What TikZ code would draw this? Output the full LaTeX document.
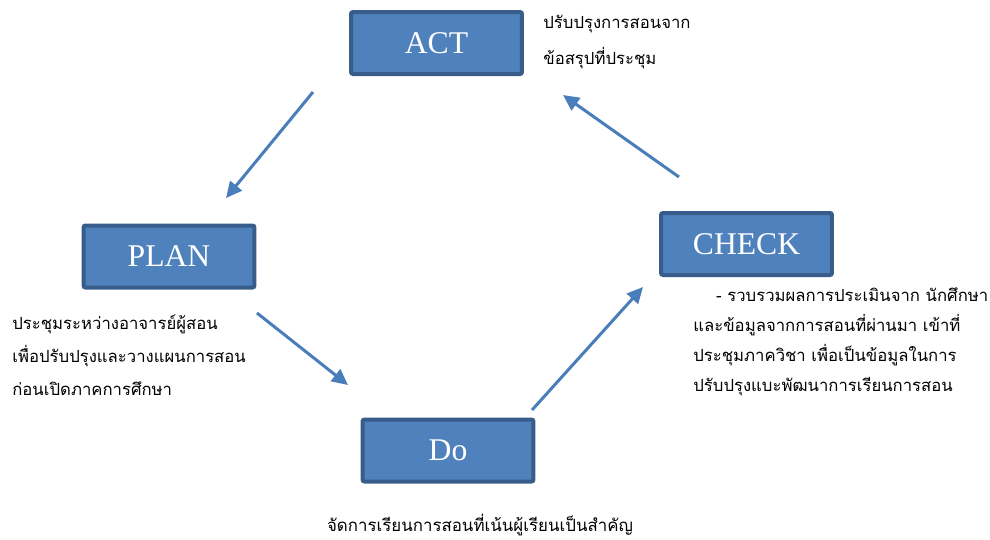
\documentclass[tikz,border=0pt]{standalone}
\usepackage{fontspec}
\setmainfont{Liberation Serif}
\newfontfamily\thaifont[Script=Thai]{Loma}
\usepackage{xcolor}
\usepackage{tikz}
\usetikzlibrary{arrows.meta, positioning}

\definecolor{boxfill}{HTML}{4F81BD}
\definecolor{boxline}{HTML}{385D8A}
\definecolor{arrowblue}{HTML}{4A7EBB}

\begin{document}
\begin{tikzpicture}[
        x=0.02cm, y=-0.02cm,
        phase/.style={rectangle, draw=boxline, line width=0.08cm, fill=boxfill, rounded corners=0.04cm,
            minimum width=3.42cm, minimum height=1.24cm, text=white, font=\fontsize{18}{20}\selectfont},
        note/.style={align=left, text=black, inner sep=0pt},
        arrow/.style={-{Triangle[length=0.32cm, width=0.3cm]}, line width=0.06cm, draw=arrowblue}
    ]
        \useasboundingbox (0,0) rectangle (990,539);

        \node[phase] (act) at (436.5,43) {ACT};
        \node[phase] (plan) at (169,256.5) {PLAN};
        \node[phase] (check) at (746.5,244) {CHECK};
        \node[phase] (do) at (448,450.5) {Do};

        \node[note, anchor=west, font=\thaifont\fontsize{9.5}{20.4}\selectfont] (actnote) at (543,42)
            {ปรับปรุงการสอนจาก\\ข้อสรุปที่ประชุม};
        \node[note, anchor=west, font=\thaifont\fontsize{9.5}{18.7}\selectfont] (plannote) at (12,355)
            {ประชุมระหว่างอาจารย์ผู้สอน\\เพื่อปรับปรุงและวางแผนการสอน\\ก่อนเปิดภาคการศึกษา};
        \node[note, anchor=west, font=\thaifont\fontsize{9.5}{17}\selectfont] (checknote) at (693,342)
            {\hspace*{13pt}- รวบรวมผลการประเมินจาก นักศึกษา\\และข้อมูลจากการสอนที่ผ่านมา เข้าที่\\ประชุมภาควิชา เพื่อเป็นข้อมูลในการ\\ปรับปรุงแบะพัฒนาการเรียนการสอน};
        \node[note, font=\thaifont\fontsize{9.6}{17}\selectfont] (donote) at (480,525)
            {จัดการเรียนการสอนที่เน้นผู้เรียนเป็นสำคัญ};

        % arrow ends float free of the boxes
        \coordinate (actout) at (313,92);
        \coordinate (planin) at (226,198);
        \coordinate (planout) at (257,313);
        \coordinate (doin) at (348,385);
        \coordinate (doout) at (532,410);
        \coordinate (checkin) at (643,287);
        \coordinate (checkout) at (679,177);
        \coordinate (actin) at (563,95);

        \draw[arrow] (actout) -- (planin);
        \draw[arrow] (planout) -- (doin);
        \draw[arrow] (doout) -- (checkin);
        \draw[arrow] (checkout) -- (actin);
    \end{tikzpicture}
\end{document}
